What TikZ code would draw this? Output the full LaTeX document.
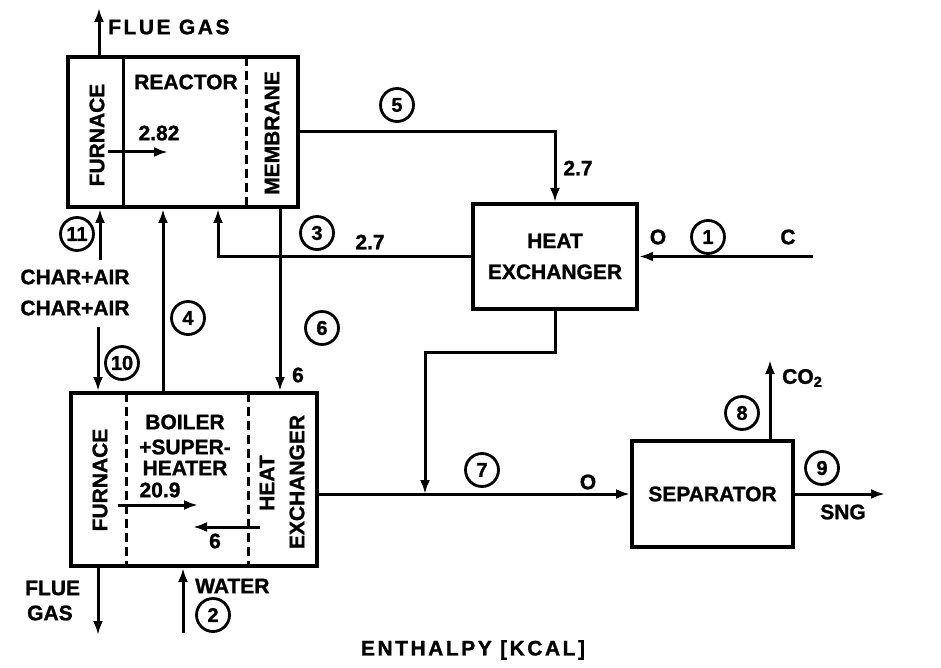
\documentclass[tikz,border=0pt]{standalone}
\usepackage{fontspec}
\setmainfont[BoldFeatures={FakeBold=1.2}]{Liberation Sans}
\newfontfamily\widefont[LetterSpace=12,BoldFeatures={FakeBold=1.2}]{Liberation Sans}
\usetikzlibrary{arrows.meta}
\begin{document}
\begin{tikzpicture}[x=1pt,y=-1pt,
  lbl/.style={font=\bfseries\fontsize{21}{23}\selectfont, inner sep=0pt},
  wlbl/.style={font=\widefont\bfseries\fontsize{21}{23}\selectfont, inner sep=0pt},
  num/.style={circle, draw, line width=2.8pt, minimum size=33pt, inner sep=0pt, font=\bfseries\fontsize{20}{21}\selectfont},
  flow/.style={line width=3pt, -{Latex[length=14pt,width=10pt]}},
  unit/.style={draw, line width=4pt, inner sep=0pt, font=\bfseries\fontsize{21}{23}\selectfont, align=center},
  div/.style={line width=3pt},
  ddiv/.style={line width=3pt, dash pattern=on 9pt off 5pt},
]
\useasboundingbox (0,0) rectangle (941,668);

% units
\node[unit, minimum width=230pt, minimum height=150pt] (R) at (183,132) {};
\node[unit, minimum width=246pt, minimum height=173pt] (B) at (194,479.5) {};
\node[unit, minimum width=164pt, minimum height=105pt] (HX) at (555,256.5) {HEAT\\[8pt]EXCHANGER};
\node[unit, minimum width=161pt, minimum height=106pt] (S) at (712.5,494) {SEPARATOR};

% dividers
\draw[div] (123,57) -- (123,207);
\draw[ddiv] (246,57) -- (246,207);
\draw[ddiv] (126,393) -- (126,566);
\draw[ddiv] (248,393) -- (248,566);

% coordinates for free ends / routing
\coordinate (fgtop) at (99,8);
\coordinate (s11) at (100,260);
\coordinate (j3) at (218,257);
\coordinate (c4) at (163,300);
\coordinate (c6) at (280,300);
\coordinate (s10) at (98,327);
\coordinate (fgbot) at (98,635);
\coordinate (sw) at (183,633);
\coordinate (s1) at (813,256.5);
\coordinate (k7) at (425,352);
\coordinate (c8) at (770,360);
\coordinate (c9) at (885,494);
\coordinate (a1s) at (108,152);
\coordinate (a1e) at (168,152);
\coordinate (a2s) at (118,505);
\coordinate (a2e) at (198,505);
\coordinate (a3s) at (260,527);
\coordinate (a3e) at (193,527);

% connectors
\draw[flow] (fgtop |- R.north) -- (fgtop);
\draw[flow] (s11) -- (s11 |- R.south);
\draw[flow] (R.east) -| (HX.north);
\draw[flow] (s1) -- (HX.east);
\draw[flow] (HX.west) -| (j3 |- R.south);
\draw[flow] (c4 |- B.north) -- (c4 |- R.south);
\draw[flow] (c6 |- R.south) -- (c6 |- B.north);
\draw[flow] (s10) -- (s10 |- B.north);
\draw[flow] (fgbot |- B.south) -- (fgbot);
\draw[flow] (sw) -- (sw |- B.south);
\draw[flow] (B.east |- S.west) -- (S.west);
\draw[flow] (HX.south) |- (k7) -- (k7 |- S.west);
\draw[flow] (c8 |- S.north) -- (c8);
\draw[flow] (S.east) -- (c9);
\draw[flow] (a1s) -- (a1e);
\draw[flow] (a2s) -- (a2e);
\draw[flow] (a3s) -- (a3e);

% labels top unit
\node[wlbl, anchor=west] (tfg) at (108,27) {FLUE GAS};
\node[lbl] (treac) at (186,82) {REACTOR};
\node[lbl, rotate=90] (tfur1) at (97,135) {FURNACE};
\node[lbl, rotate=90] (tmem) at (272,133) {MEMBRANE};
\node[lbl] (t282) at (159,133) {2.82};

% stream labels
\node[num] (n5) at (397,105) {5};
\node[lbl] (t27a) at (578,168) {2.7};
\node[lbl] (tO1) at (658,237) {O};
\node[num] (n1) at (708,237) {1};
\node[lbl] (tC) at (788,237) {C};
\node[num] (n3) at (317,233) {3};
\node[lbl] (t27b) at (370,242) {2.7};
\node[num] (n11) at (77,234) {11};
\node[lbl] (tca1) at (75,277) {CHAR+AIR};
\node[lbl] (tca2) at (75,308) {CHAR+AIR};
\node[num] (n4) at (188,318) {4};
\node[num] (n6) at (322,328) {6};
\node[lbl] (t6a) at (298,375) {6};
\node[num] (n10) at (122,363) {10};

% bottom unit labels
\node[lbl, rotate=90] (tfur2) at (100,480) {FURNACE};
\node[lbl] (tboil) at (185,422) {BOILER};
\node[lbl] (tsup) at (185,447) {+SUPER-};
\node[lbl] (thtr) at (185,468) {HEATER};
\node[lbl] (t209) at (160,490) {20.9};
\node[lbl] (t6b) at (215,541) {6};
\node[lbl, rotate=90] (theat) at (267,483) {HEAT};
\node[lbl, rotate=90] (texch) at (297,482) {EXCHANGER};

\node[lbl, anchor=west] (tflue) at (25,588) {FLUE};
\node[lbl, anchor=west] (tgas) at (27,613) {GAS};
\node[lbl, anchor=west] (twat) at (195,586) {WATER};
\node[num] (n2) at (213,615) {2};

\node[num] (n7) at (482,470) {7};
\node[lbl] (tO2) at (588,482) {O};
\node[num] (n8) at (742,413) {8};
\node[lbl, anchor=west] (tco2) at (782,378) {CO\textsubscript{2}};
\node[num] (n9) at (822,468) {9};
\node[lbl] (tsng) at (843,512) {SNG};

\node[wlbl] (tenth) at (473,650) {ENTHALPY [KCAL]};
\end{tikzpicture}
\end{document}
